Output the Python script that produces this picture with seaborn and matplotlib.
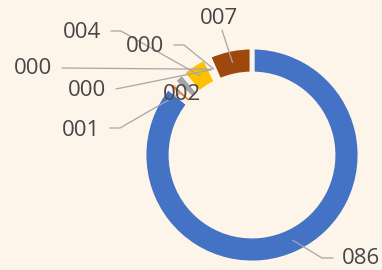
import numpy as np
import seaborn as sns
import matplotlib.pyplot as plt

# --------------------------------------------------
# data (shares in %, clockwise from 12 o'clock)
# --------------------------------------------------
values = [85.8, 1.2, 1.8, 4.0, 0.2, 0.2, 0.2, 6.6]
colors = ["#4472C4", "#ED7D31", "#A5A5A5", "#FFC000",
          "#5B9BD5", "#70AD47", "#264478", "#9E480E"]
labels = [f"{v:03.0f}" for v in values]

# label placement in image pixels (x, y from top) and leader style
label_pos = [(361, 259), (81, 130), (182, 95), (82, 33),
             (87, 90), (33, 69), (145, 47), (219, 18)]
leader_side = ["left", "right", None, "right", "straight", "straight", "right", "bottom"]

bg = "#FDF5EA"
text_color = "#474747"
line_color = "#A6A6A6"

W, H = 382, 270
cx, cy = 252, 155          # ring centre (image px)
r_out, ring = 108, 27

sns.set_theme(style="white")
plt.rcParams["font.family"] = ["Open Sans", "DejaVu Sans"]

fig = plt.figure(figsize=(W / 100, H / 100), dpi=100, facecolor=bg)
ax = fig.add_axes([0, 0, 1, 1])
ax.set_facecolor(bg)

ax.pie(values, colors=colors, startangle=90, counterclock=False,
       radius=r_out, center=(cx, H - cy), frame=True,
       wedgeprops=dict(width=ring, edgecolor=bg, linewidth=3.5))

ax.set_xlim(0, W)
ax.set_ylim(0, H)
ax.set_aspect("auto")
ax.axis("off")

# --------------------------------------------------
# labels with leader lines
# --------------------------------------------------
total = sum(values)
cum = np.cumsum([0] + values)
r_mid = r_out - ring / 2
fs = 16

for i, lab in enumerate(labels):
    tx, ty = label_pos[i]
    ax.text(tx, H - ty, lab, ha="center", va="center", fontsize=fs,
            color=text_color, zorder=6)
    side = leader_side[i]
    if side is None:
        continue
    theta = np.deg2rad((cum[i] + values[i] / 2) / total * 360)
    ex = cx + r_mid * np.sin(theta)
    ey = cy - r_mid * np.cos(theta)
    if side == "right":
        pts = [(tx + 29, ty - 2), (tx + 39, ty - 2), (ex, ey)]
    elif side == "straight":
        pts = [(tx + 29, ty - 1), (ex, ey)]
    elif side == "left":
        pts = [(tx - 28, ty - 1), (tx - 39, ty - 1), (ex, ey)]
    else:
        pts = [(tx + 3, ty + 12), (ex, ey)]
    xs = [p[0] for p in pts]
    ys = [H - p[1] for p in pts]
    ax.plot(xs, ys, color=line_color, lw=0.9, zorder=5)

fig.savefig("out.png", dpi=100, facecolor=bg)
plt.close()
